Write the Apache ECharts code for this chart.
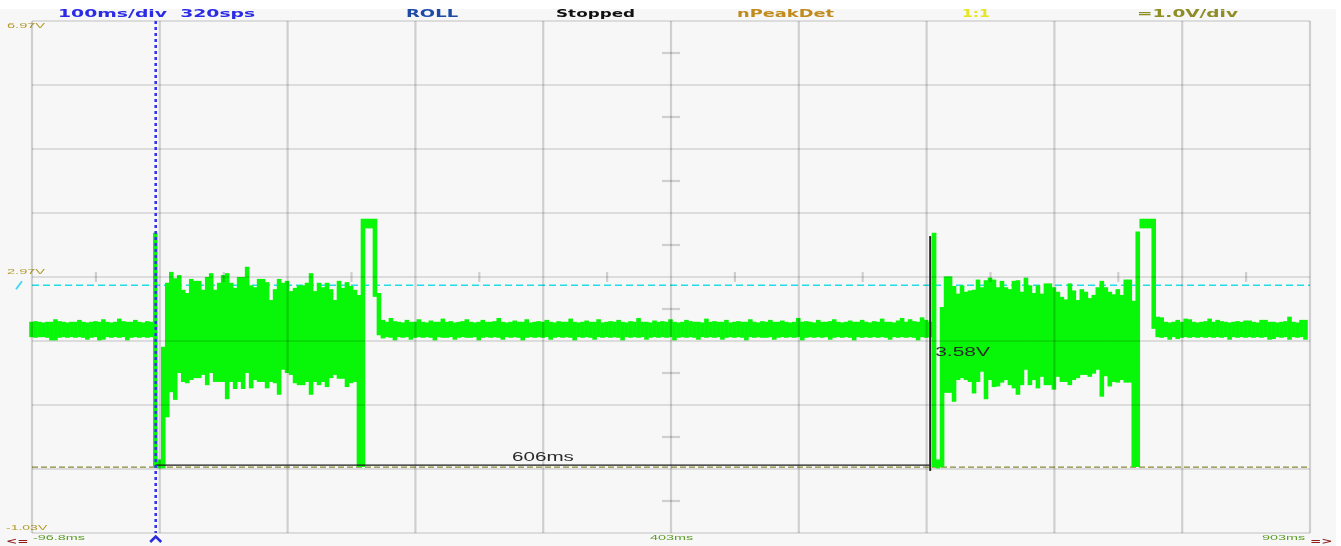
<!DOCTYPE html>
<html>
<head>
<meta charset="utf-8">
<script src="https://cdn.jsdelivr.net/npm/echarts@6/dist/echarts.min.js"></script>
<style>
  html, body { margin: 0; padding: 0; background: #ffffff; }
  #scope { width: 1341px; height: 546px; }
</style>
</head>
<body>
<div id="scope"></div>
<script>
// Horizontal divisions: 100 ms/div, screen runs from -96.8 ms to 903.2 ms
const timeTicks = [-96.8, 3.2, 103.2, 203.2, 303.2, 403.2, 503.2, 603.2, 703.2, 803.2, 903.2];
// Vertical divisions: 1.0 V/div
const voltTicks = [-1.03, -0.03, 0.97, 1.97, 2.97, 3.97, 4.97, 5.97, 6.97];

// Acquisition clock: 320 sps in roll mode
const sampleStart = -99.0;   // ms
const samplePeriod = 3.125;  // ms

// Peak-detect record: per-sample maximum and minimum (V)
const traceMax = [
  2.27,2.28,2.27,2.26,2.27,2.27,2.31,2.28,2.27,2.26,
  2.27,2.27,2.30,2.27,2.26,2.27,2.28,2.27,2.31,2.27,
  2.26,2.27,2.32,2.28,2.27,2.27,2.30,2.27,2.26,2.28,
  2.27,3.66,0.12,1.88,2.88,3.05,2.95,3.00,2.77,2.72,
  2.94,2.91,2.91,2.77,2.97,3.03,2.77,2.88,3.00,3.03,
  2.88,2.80,2.97,2.97,3.13,2.84,2.81,2.94,2.94,2.89,
  2.61,2.78,2.94,2.88,2.91,2.75,2.80,2.84,2.84,2.88,
  3.03,2.75,2.88,2.81,2.88,2.78,2.61,2.91,2.80,2.89,
  2.83,2.77,2.69,3.88,3.88,3.88,3.88,2.72,2.30,2.27,
  2.33,2.28,2.27,2.26,2.30,2.27,2.27,2.31,2.27,2.26,
  2.29,2.27,2.27,2.32,2.27,2.28,2.26,2.27,2.28,2.31,
  2.27,2.26,2.27,2.30,2.27,2.27,2.28,2.33,2.27,2.26,
  2.27,2.29,2.27,2.27,2.31,2.26,2.27,2.28,2.27,2.30,
  2.27,2.26,2.28,2.27,2.27,2.32,2.27,2.26,2.27,2.29,
  2.27,2.27,2.31,2.26,2.27,2.28,2.27,2.30,2.27,2.26,
  2.28,2.27,2.33,2.27,2.27,2.26,2.29,2.27,2.28,2.27,
  2.31,2.27,2.26,2.27,2.30,2.28,2.27,2.27,2.26,2.32,
  2.27,2.28,2.27,2.27,2.30,2.26,2.27,2.28,2.27,2.27,
  2.31,2.27,2.26,2.28,2.27,2.30,2.27,2.27,2.29,2.27,
  2.26,2.27,2.33,2.27,2.28,2.27,2.26,2.30,2.27,2.27,
  2.28,2.31,2.27,2.26,2.27,2.29,2.27,2.27,2.30,2.27,
  2.26,2.28,2.27,2.32,2.27,2.27,2.26,2.29,2.33,2.27,
  2.31,2.28,2.27,2.34,2.30,2.27,3.66,0.12,2.50,2.98,
  2.98,2.83,2.71,2.84,2.74,2.76,2.77,2.93,2.81,2.92,
  2.96,2.93,2.81,2.91,2.81,2.78,2.91,2.92,2.74,2.96,
  2.84,2.72,2.84,2.71,2.87,2.87,2.81,2.74,2.66,2.62,
  2.87,2.76,2.61,2.78,2.74,2.64,2.69,2.81,2.91,2.81,
  2.74,2.70,2.78,2.69,2.93,2.93,2.60,3.68,3.88,3.88,
  3.88,3.88,2.35,2.34,2.27,2.26,2.27,2.30,2.27,2.32,
  2.31,2.27,2.26,2.27,2.28,2.32,2.27,2.30,2.28,2.27,
  2.26,2.27,2.28,2.27,2.29,2.29,2.27,2.26,2.30,2.30,
  2.27,2.27,2.26,2.27,2.28,2.35,2.27,2.26,2.30,2.30
];
const traceMin = [
  2.03,2.02,2.03,2.03,2.02,1.98,1.98,2.02,2.03,2.02,
  2.03,2.02,2.03,2.02,1.99,2.02,2.03,1.98,1.99,2.03,
  2.02,2.03,2.02,2.03,1.98,2.02,2.03,2.02,2.03,2.02,
  2.03,0.00,-0.02,-0.02,0.78,1.17,1.05,1.47,1.33,1.31,
  1.36,1.39,1.39,1.44,1.28,1.47,1.33,1.33,1.33,1.06,
  1.33,1.22,1.33,1.22,1.47,1.23,1.36,1.33,1.33,1.23,
  1.33,1.31,1.13,1.52,1.47,1.44,1.31,1.28,1.28,1.33,
  1.13,1.33,1.28,1.33,1.25,1.39,1.44,1.38,1.38,1.25,
  1.31,1.33,0.00,0.00,3.73,3.73,2.66,2.06,2.01,2.03,
  2.02,1.98,2.03,2.02,2.03,1.99,2.02,2.03,2.02,2.03,
  2.02,1.98,2.03,2.02,2.02,2.03,1.99,2.02,2.03,2.02,
  2.02,2.03,1.98,2.02,2.03,2.02,2.03,2.02,1.99,2.03,
  2.02,2.03,2.02,1.98,2.02,2.03,2.02,2.03,2.02,2.03,
  1.99,2.02,2.03,2.02,2.03,2.02,1.98,2.03,2.02,2.03,
  2.02,1.99,2.03,2.02,2.03,2.02,2.03,2.02,1.98,2.03,
  2.02,2.03,2.02,2.03,1.99,2.02,2.03,2.02,2.03,2.02,
  2.03,1.98,2.02,2.03,2.02,2.03,2.02,1.99,2.03,2.02,
  2.03,2.02,2.03,1.99,2.02,2.03,2.02,2.03,2.02,1.98,
  2.03,2.02,2.03,2.02,2.02,2.03,1.99,2.02,2.03,2.02,
  2.03,2.02,2.03,1.98,2.02,2.03,2.02,2.03,2.02,2.03,
  1.99,2.02,2.03,2.02,2.03,2.02,1.98,2.03,2.02,2.03,
  2.02,2.03,2.02,2.03,2.02,1.99,2.03,2.02,2.03,2.02,
  2.03,2.02,1.98,2.03,2.02,2.03,0.00,-0.02,0.00,1.16,
  1.16,1.02,1.36,1.39,1.36,1.33,1.15,1.33,1.49,1.06,
  1.36,1.25,1.26,1.32,1.36,1.28,1.23,1.13,1.28,1.52,
  1.28,1.36,1.23,1.41,1.28,1.28,1.21,1.41,1.33,1.33,
  1.28,1.36,1.39,1.44,1.44,1.41,1.46,1.52,1.10,1.42,
  1.26,1.33,1.32,1.36,1.32,1.32,0.00,0.00,3.73,3.73,
  3.73,2.16,2.03,2.02,2.03,1.99,2.03,2.00,2.02,2.03,
  2.02,2.03,2.02,2.03,2.02,2.03,2.02,2.03,2.02,2.03,
  1.99,2.03,2.02,2.03,2.02,2.03,2.02,2.03,2.02,2.03,
  1.99,2.00,2.03,2.02,2.03,1.99,2.03,2.02,2.03,1.99
];

// Trigger and reference levels (V)
const triggerLevel = 2.84;
const groundLevel = 0.0;

// Measurement cursors
const cursorTimes = [0, 606];     // ms
const cursorBase = 0.03;          // V
const cursorDelta = 3.58;         // V

const TRACE = '#08f608';
const GRID_V = 'rgba(0,0,0,0.16)';
const GRID_H = 'rgba(0,0,0,0.21)';

const X0 = timeTicks[0], X1 = timeTicks[timeTicks.length - 1];
const Y0 = voltTicks[0], Y1 = voltTicks[voltTicks.length - 1];
const tCenter = timeTicks[5], vCenter = voltTicks[4];

const mids = arr => arr.slice(1).map((v, i) => (v + arr[i]) / 2);

const traceData = traceMax.map((hi, i) => [sampleStart + i * samplePeriod, hi, traceMin[i]]);
const gridData = [].concat(
  timeTicks.map(t => [0, t]),
  voltTicks.map(v => [1, v]),
  mids(timeTicks).map(t => [2, t]),
  mids(voltTicks).map(v => [3, v])
);

function renderTrace(params, api) {
  const t = api.value(0);
  const a = api.coord([t, api.value(1)]);
  const b = api.coord([t + samplePeriod, api.value(2)]);
  return {
    type: 'rect',
    shape: { x: a[0], y: a[1], width: b[0] - a[0] + 0.6, height: Math.max(b[1] - a[1], 1.5) },
    style: { fill: TRACE }
  };
}

function renderGrid(params, api) {
  const kind = api.value(0), v = api.value(1);
  let a, b, stroke = GRID_V, lw = 2.2;
  if (kind === 0) { a = api.coord([v, Y1]); b = api.coord([v, Y0]); }
  else if (kind === 1) { a = api.coord([X0, v]); b = api.coord([X1, v]); stroke = GRID_H; lw = 1.2; }
  else if (kind === 2) { const p = api.coord([v, vCenter]); a = [p[0], p[1] - 5]; b = [p[0], p[1] + 5]; }
  else { const p = api.coord([tCenter, v]); a = [p[0] - 9, p[1]]; b = [p[0] + 9, p[1]]; }
  return { type: 'line', shape: { x1: a[0], y1: a[1], x2: b[0], y2: b[1] }, style: { stroke, lineWidth: lw } };
}

function renderLevels(params, api) {
  const trigA = api.coord([X0, triggerLevel]), trigB = api.coord([X1, triggerLevel]);
  const gndA = api.coord([X0, groundLevel]), gndB = api.coord([X1, groundLevel]);
  return {
    type: 'group',
    children: [
      { type: 'line', shape: { x1: trigA[0], y1: trigA[1], x2: trigB[0], y2: trigB[1] },
        style: { stroke: '#22dde8', lineWidth: 1.4, lineDash: [7, 4] } },
      { type: 'line', shape: { x1: trigA[0] - 16, y1: trigA[1] + 4, x2: trigA[0] - 10, y2: trigA[1] - 4 },
        style: { stroke: '#3fd8ee', lineWidth: 1.8 } },
      { type: 'line', shape: { x1: gndA[0], y1: gndA[1], x2: gndB[0], y2: gndB[1] },
        style: { stroke: '#8c8a3a', lineWidth: 1.4, lineDash: [6, 3] } }
    ]
  };
}

function renderCursors(params, api) {
  const a = api.coord([cursorTimes[0], cursorBase]);
  const b = api.coord([cursorTimes[1], cursorBase]);
  const top = api.coord([cursorTimes[1], cursorBase + cursorDelta]);
  const bot = api.coord([cursorTimes[1], cursorBase - 0.09]);
  const midV = api.coord([cursorTimes[1], cursorBase + cursorDelta / 2]);
  return {
    type: 'group',
    children: [
      { type: 'line', shape: { x1: a[0], y1: a[1], x2: b[0], y2: b[1] },
        style: { stroke: '#1a1a1a', lineWidth: 1.4 } },
      { type: 'line', shape: { x1: top[0], y1: top[1], x2: bot[0], y2: bot[1] },
        style: { stroke: '#222222', lineWidth: 2 } },
      { type: 'text', x: (a[0] + b[0]) / 2, y: a[1] - 7, scaleX: 1.72,
        style: { text: (cursorTimes[1] - cursorTimes[0]) + 'ms', fill: '#2a2a2a',
                 font: '12px "Liberation Sans"', textAlign: 'center', textVerticalAlign: 'middle',
                 align: 'center', verticalAlign: 'middle' } },
      { type: 'text', x: midV[0] + 5, y: midV[1] + 2, scaleX: 1.75,
        style: { text: cursorDelta.toFixed(2) + 'V', fill: '#2a2a2a',
                 font: '12px "Liberation Sans"', textAlign: 'left', textVerticalAlign: 'middle',
                 align: 'left', verticalAlign: 'middle' } }
    ]
  };
}

function renderTriggerPos(params, api) {
  const t = cursorTimes[0];
  const a = api.coord([t, Y1]), b = api.coord([t, Y0]);
  return {
    type: 'group',
    children: [
      { type: 'line', shape: { x1: a[0], y1: a[1], x2: b[0], y2: b[1] },
        style: { stroke: '#3535f0', lineWidth: 2.6, lineDash: [3, 3] } },
      { type: 'polyline', shape: { points: [[b[0] - 5.5, b[1] + 9], [b[0], b[1] + 3.5], [b[0] + 5.5, b[1] + 9]] },
        style: { stroke: '#2a2ae0', lineWidth: 2.6, fill: null } }
    ]
  };
}

function txt(text, x, y, fill, font, sx) {
  return { type: 'text', x, y, scaleX: sx, silent: true,
           style: { text, fill, font, textAlign: 'left', textVerticalAlign: 'middle', align: 'left', verticalAlign: 'middle' } };
}

const HEAD = 'bold 10px "DejaVu Sans"';
const SMALL = '8px "Liberation Sans"';

const chart = echarts.init(document.getElementById('scope'), null, { renderer: 'canvas' });
chart.setOption({
  animation: false,
  backgroundColor: '#f7f7f7',
  grid: { left: 32, right: 31, top: 21, bottom: 13 },
  xAxis: { type: 'value', min: X0, max: X1, show: false },
  yAxis: { type: 'value', min: Y0, max: Y1, show: false },
  graphic: [
    { type: 'rect', shape: { x: 0, y: 0, width: 1341, height: 9 }, style: { fill: '#ffffff' }, silent: true },
    { type: 'rect', shape: { x: 1336, y: 0, width: 5, height: 546 }, style: { fill: '#ffffff' }, silent: true },
    txt('100ms/div  320sps', 58, 14.7, '#2b2be6', HEAD, 1.88),
    txt('ROLL', 406, 14.7, '#1d4aa6', HEAD, 1.80),
    txt('Stopped', 556, 14.7, '#111111', HEAD, 1.68),
    txt('nPeakDet', 737, 14.7, '#c08a1c', HEAD, 1.78),
    txt('1:1', 962, 14.7, '#e6e61e', HEAD, 1.56),
    txt('=1.0V/div', 1137, 14.7, '#8e8c24', HEAD, 1.85),
    txt('6.97V', 7, 26, '#b39a2c', SMALL, 1.82),
    txt('2.97V', 7, 272, '#b39a2c', SMALL, 1.82),
    txt('-1.03V', 6, 528, '#b39a2c', SMALL, 1.75),
    txt('-96.8ms', 33, 538, '#5c9c28', SMALL, 1.8),
    txt('403ms', 650, 538, '#5c9c28', SMALL, 1.8),
    txt('903ms', 1262, 538, '#5c9c28', SMALL, 1.8),
    txt('<=', 6, 542, '#8e1a1a', 'bold 9px "DejaVu Sans"', 1.5),
    txt('=>', 1310, 542, '#8e1a1a', 'bold 9px "DejaVu Sans"', 1.5)
  ],
  series: [
    { type: 'custom', name: 'levels', z: 1, silent: true, data: [[0, 0]], renderItem: renderLevels },
    { type: 'custom', name: 'CH1', z: 2, silent: true, data: traceData, renderItem: renderTrace },
    { type: 'custom', name: 'graticule', z: 3, silent: true, data: gridData, renderItem: renderGrid },
    { type: 'custom', name: 'cursors', z: 4, silent: true, data: [[0, 0]], renderItem: renderCursors },
    { type: 'custom', name: 'trigger', z: 5, silent: true, data: [[0, 0]], renderItem: renderTriggerPos }
  ]
});
</script>
</body>
</html>
